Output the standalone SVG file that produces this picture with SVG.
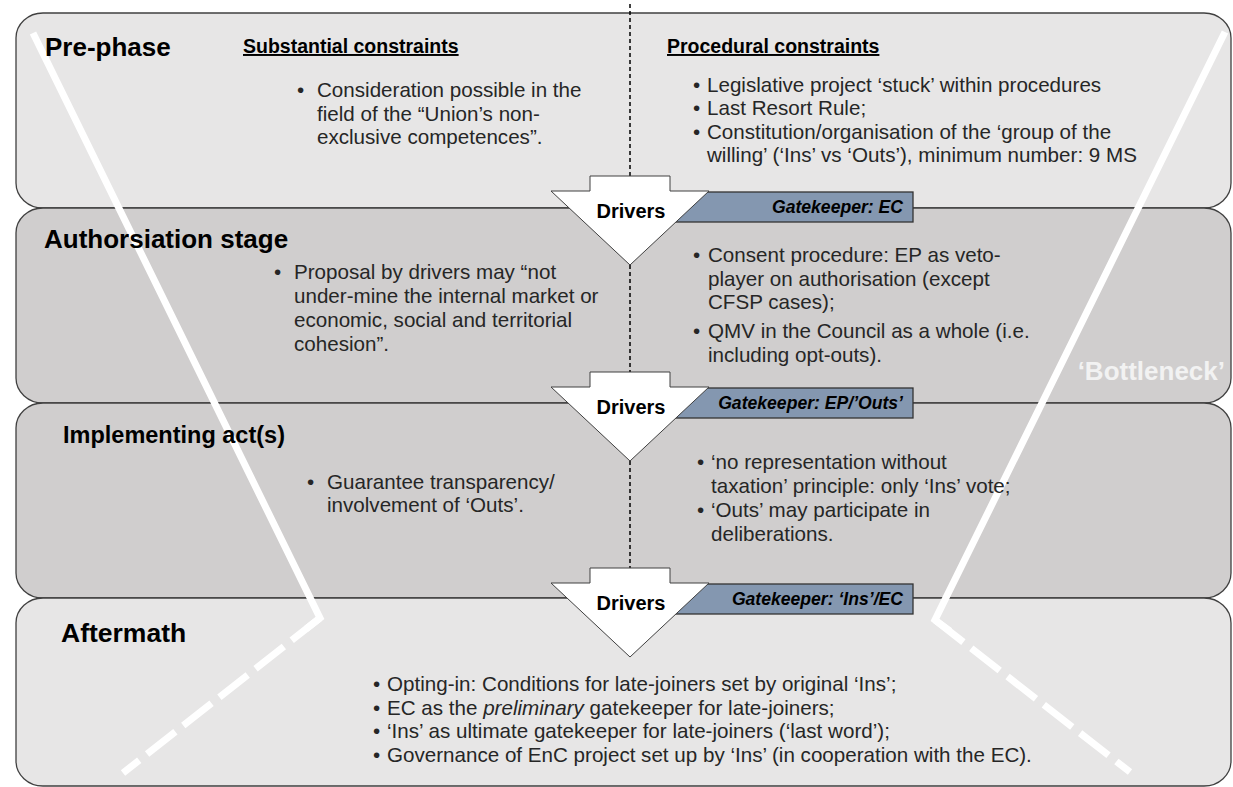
<svg xmlns="http://www.w3.org/2000/svg" width="1233" height="787" viewBox="0 0 1233 787">
<style>
.panel-light{fill:#e7e6e6;stroke:#404040;stroke-width:1.3}
.panel-dark{fill:#d0cece;stroke:#404040;stroke-width:1.3}
.h{font-family:"Liberation Sans",Arial,sans-serif;font-weight:bold;font-size:26px;fill:#000}
.sub{font-family:"Liberation Sans",Arial,sans-serif;font-weight:bold;font-size:19.5px;fill:#000;text-decoration:underline}
.b{font-family:"Liberation Sans",Arial,sans-serif;font-size:20.6px;fill:#262626}
.bn{fill:none;stroke:#ffffff;stroke-width:7;stroke-linejoin:miter}
.bnd{fill:none;stroke:#ffffff;stroke-width:7;stroke-dasharray:36 10}
.arrow{fill:#ffffff;stroke:#404040;stroke-width:1}
.gk{fill:#8497b0;stroke:#333333;stroke-width:1.3}
.gkt{font-family:"Liberation Sans",Arial,sans-serif;font-weight:bold;font-style:italic;font-size:17.6px;fill:#000;text-anchor:end}
.drv{font-family:"Liberation Sans",Arial,sans-serif;font-weight:bold;font-size:20px;fill:#000;text-anchor:middle}
.dash{stroke:#000;stroke-width:1.5;stroke-dasharray:4 3}
</style>
<defs>
<path id="arrowShape" d="M590,0 L670,0 L670,15 L709,15 L630,89 L551,15 L590,15 Z"/>
</defs>

<g id="panel-backgrounds">
<rect id="bg-prephase" class="panel-light" x="16" y="13" width="1215" height="195" rx="27" ry="25"/>
<rect id="bg-authorisation" class="panel-dark" x="16" y="208" width="1215" height="195" rx="27" ry="25"/>
<rect id="bg-implementing" class="panel-dark" x="16" y="403" width="1215" height="195" rx="27" ry="25"/>
<rect id="bg-aftermath" class="panel-light" x="16" y="598" width="1215" height="188" rx="27" ry="25"/>
</g>

<g id="bottleneck">
<path class="bn" d="M33,33 L320,618 L306,629"/>
<path class="bnd" d="M320,618 L123,773"/>
<path class="bn" d="M1225,32 L935,620 L950,631"/>
<path class="bnd" d="M935,620 L1130,772"/>
<text x="1225" y="380" style="font-family:'Liberation Sans',Arial,sans-serif;font-weight:bold;font-size:26px;fill:#f2f2f2;text-anchor:end">‘Bottleneck’</text>
</g>

<g id="connectors">
<line class="dash" x1="630" y1="4" x2="630" y2="176"/>
<line class="dash" x1="630" y1="265" x2="630" y2="372"/>
<line class="dash" x1="630" y1="461" x2="630" y2="568"/>
</g>

<g id="pre-phase">
<text class="h" x="45" y="56">Pre-phase</text>
<text class="sub" x="243" y="53">Substantial constraints</text>
<text class="b" x="297" y="97">•</text>
<text class="b" x="317" y="97">Consideration possible in the</text>
<text class="b" x="317" y="120.5">field of the “Union’s non-</text>
<text class="b" x="317" y="144">exclusive competences”.</text>
<text class="sub" x="667" y="53">Procedural constraints</text>
<text class="b" x="693" y="92">•</text>
<text class="b" x="707" y="92">Legislative project ‘stuck’ within procedures</text>
<text class="b" x="693" y="115">•</text>
<text class="b" x="707" y="115">Last Resort Rule;</text>
<text class="b" x="693" y="138.5">•</text>
<text class="b" x="707" y="138.5">Constitution/organisation of the ‘group of the</text>
<text class="b" x="707" y="162">willing’ (‘Ins’ vs ‘Outs’), minimum number: 9 MS</text>
</g>

<g id="authorisation-stage">
<text class="h" x="44" y="248">Authorsiation stage</text>
<text class="b" x="274" y="279">•</text>
<text class="b" x="294" y="279">Proposal by drivers may “not</text>
<text class="b" x="294" y="303">under-mine the internal market or</text>
<text class="b" x="294" y="327">economic, social and territorial</text>
<text class="b" x="294" y="351">cohesion”.</text>
<text class="b" x="693" y="262">•</text>
<text class="b" x="708" y="262">Consent procedure: EP as veto-</text>
<text class="b" x="708" y="286">player on authorisation (except</text>
<text class="b" x="708" y="309">CFSP cases);</text>
<text class="b" x="693" y="338">•</text>
<text class="b" x="708" y="338">QMV in the Council as a whole (i.e.</text>
<text class="b" x="708" y="362">including opt-outs).</text>
</g>

<g id="implementing-acts">
<text class="h" x="63" y="443" style="font-size:23.5px">Implementing act(s)</text>
<text class="b" x="307" y="489">•</text>
<text class="b" x="327" y="489">Guarantee transparency/</text>
<text class="b" x="327" y="512">involvement of ‘Outs’.</text>
<text class="b" x="697" y="469">•</text>
<text class="b" x="711" y="469">‘no representation without</text>
<text class="b" x="711" y="493">taxation’ principle: only ‘Ins’ vote;</text>
<text class="b" x="697" y="517">•</text>
<text class="b" x="711" y="517">‘Outs’ may participate in</text>
<text class="b" x="711" y="541">deliberations.</text>
</g>

<g id="aftermath">
<text class="h" x="61" y="642" style="font-size:26.5px">Aftermath</text>
<text class="b" x="373" y="691">•</text>
<text class="b" x="387" y="691">Opting-in: Conditions for late-joiners set by original ‘Ins’;</text>
<text class="b" x="373" y="714.5">•</text>
<text class="b" x="387" y="714.5">EC as the <tspan font-style="italic">preliminary</tspan> gatekeeper for late-joiners;</text>
<text class="b" x="373" y="738">•</text>
<text class="b" x="387" y="738">‘Ins’ as ultimate gatekeeper for late-joiners (‘last word’);</text>
<text class="b" x="373" y="761.5">•</text>
<text class="b" x="387" y="761.5">Governance of EnC project set up by ‘Ins’ (in cooperation with the EC).</text>
</g>

<g id="gate-1" transform="translate(0,176)">
<rect class="gk" x="660" y="16" width="253" height="30"/>
<use href="#arrowShape" class="arrow"/>
<text class="drv" x="631" y="42">Drivers</text>
<text class="gkt" x="903" y="37">Gatekeeper: EC</text>
</g>

<g id="gate-2" transform="translate(0,372)">
<rect class="gk" x="660" y="16" width="253" height="30"/>
<use href="#arrowShape" class="arrow"/>
<text class="drv" x="631" y="42">Drivers</text>
<text class="gkt" x="903" y="37">Gatekeeper: EP/’Outs’</text>
</g>

<g id="gate-3" transform="translate(0,568)">
<rect class="gk" x="660" y="16" width="253" height="30"/>
<use href="#arrowShape" class="arrow"/>
<text class="drv" x="631" y="42">Drivers</text>
<text class="gkt" x="903" y="37">Gatekeeper: ‘Ins’/EC</text>
</g>
</svg>
